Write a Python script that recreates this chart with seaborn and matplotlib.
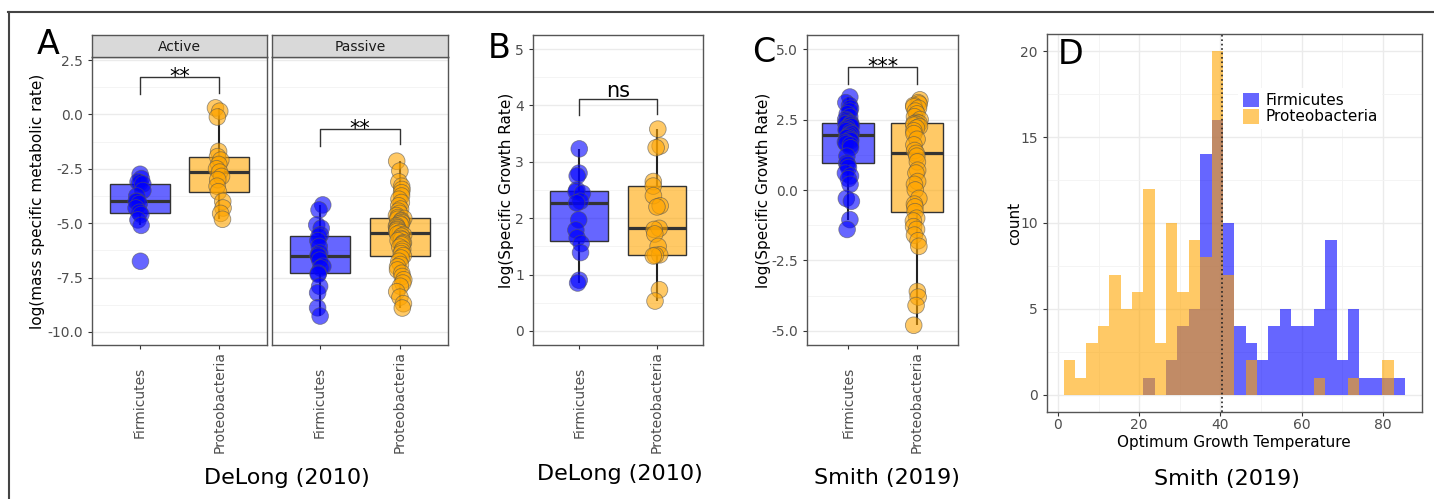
import numpy as np
import pandas as pd
import matplotlib
matplotlib.use("Agg")
import matplotlib.pyplot as plt
import seaborn as sns
from matplotlib.lines import Line2D
from matplotlib.patches import Patch
from matplotlib.ticker import MultipleLocator

# ---------------------------------------------------
# DATA
# ---------------------------------------------------

groups = ["Firmicutes", "Proteobacteria"]

# Panel A - DeLong (2010), log(mass specific metabolic rate)
active_firm = [-2.75, -2.95, -3.1, -3.15, -3.2, -3.5, -3.75, -4.0,
               -4.0, -4.1, -4.3, -4.5, -4.6, -4.85, -5.1, -6.75]
active_prot = [0.3, 0.15, -0.12, -1.7, -1.94, -2.1, -2.3, -2.5, -2.65,
               -2.85, -3.0, -3.3, -3.55, -4.0, -4.3, -4.55, -4.82]
passive_firm = [-4.16, -4.39, -5.08, -5.23, -5.53, -5.6, -5.8, -6.07,
                -6.37, -6.46, -6.52, -6.7, -6.98, -7.06, -7.3, -7.35,
                -7.9, -8.2, -8.89, -9.27]
passive_prot = [-2.15, -2.6, -3.1, -3.3, -3.45, -3.6, -3.75, -3.9, -4.05,
                -4.2, -4.35, -4.45, -4.55, -4.65, -4.74, -4.78, -4.82,
                -4.88, -4.92, -4.98, -5.02, -5.08, -5.12, -5.18, -5.22,
                -5.28, -5.32, -5.38, -5.43, -5.5, -5.55, -5.6, -5.7,
                -5.75, -5.8, -5.9, -5.95, -6.0, -6.1, -6.2, -6.3, -6.4,
                -6.49, -6.6, -6.75, -6.9, -7.0, -7.15, -7.3, -7.45, -7.6,
                -7.75, -7.9, -8.15, -8.4, -8.7, -8.9]

# Panel B - DeLong (2010), log(Specific Growth Rate)
delong_firm = [3.23, 2.8, 2.75, 2.5, 2.47, 2.44, 2.3, 2.27, 1.97, 1.79,
               1.65, 1.55, 1.39, 0.9, 0.85]
delong_prot = [3.58, 3.28, 3.25, 2.65, 2.57, 2.4, 2.22, 2.2, 1.82, 1.8,
               1.72, 1.5, 1.35, 1.34, 1.33, 0.73, 0.53]

# Panel C - Smith (2019), log(Specific Growth Rate)
smith_firm = [3.3, 3.1, 3.0, 2.9, 2.8, 2.7, 2.6, 2.5, 2.45, 2.4, 2.37,
              2.35, 2.33, 2.3, 2.25, 2.2, 2.15, 2.1, 2.05, 2.0, 1.95,
              1.9, 1.85, 1.8, 1.75, 1.7, 1.65, 1.6, 1.5, 1.2, 0.95, 0.9,
              0.8, 0.6, 0.5, 0.4, 0.2, -0.3, -0.4, -1.05, -1.4]
smith_prot = [3.2, 3.1, 3.05, 3.0, 2.95, 2.9, 2.8, 2.7, 2.6, 2.5, 2.4,
              2.37, 2.35, 2.33, 2.3, 2.25, 2.2, 2.1, 2.0, 1.8, 1.6, 1.4,
              1.3, 1.2, 1.0, 0.7, 0.6, 0.3, 0.2, 0.0, -0.3, -0.5, -0.6,
              -0.77, -1.0, -1.1, -1.3, -1.4, -1.6, -1.8, -2.0, -3.6,
              -3.8, -4.1, -4.8]

# Panel D - Smith (2019), optimum growth temperature histogram (30 bins)
bin_start = 1.4
bin_width = 2.8
firm_counts = [0, 0, 0, 0, 0, 0, 0, 1, 0, 2, 4, 5, 14, 16, 10,
               4, 3, 2, 4, 5, 4, 4, 5, 9, 2, 5, 1, 1, 1, 1]
prot_counts = [2, 1, 3, 4, 7, 5, 6, 12, 3, 10, 6, 9, 8, 20, 7,
               0, 2, 0, 0, 0, 0, 0, 1, 0, 0, 1, 0, 0, 2, 0]
temp_cutoff = 40.4

# significance brackets: (label, bar level, left leg end, right leg end)
sig_active = ("**", 1.7, 0.95, 1.0)
sig_passive = ("**", -0.69, -1.45, -1.37)
sig_delong = ("ns", 4.11, 3.83, 3.84)
sig_smith = ("***", 4.35, 3.75, 3.75)

# ---------------------------------------------------
# STYLE
# ---------------------------------------------------

plt.rcParams["font.family"] = ["DejaVu Sans"]
plt.rcParams["axes.unicode_minus"] = False

palette = {"Firmicutes": "blue", "Proteobacteria": "orange"}
W, H = 1434, 499


def px_rect(x0, y0, x1, y1):
    return [x0 / W, 1 - y1 / H, (x1 - x0) / W, (y1 - y0) / H]


def long_df(firm, prot):
    return pd.DataFrame({
        "phylum": [groups[0]] * len(firm) + [groups[1]] * len(prot),
        "value": firm + prot
    })


def style_axes(ax):
    ax.set_facecolor("white")
    for s in ax.spines.values():
        s.set_color("#555555")
        s.set_linewidth(1.0)
    ax.set_axisbelow(True)
    ax.grid(which="major", color="#EBEBEB", linewidth=1.0)
    ax.grid(which="minor", color="#F3F3F3", linewidth=0.6)
    ax.tick_params(which="major", length=3, width=0.8, color="#333333",
                   labelcolor="#4D4D4D", labelsize=10)
    ax.tick_params(which="minor", length=0)


def draw_box(ax, df):
    sns.boxplot(
        data=df, x="phylum", y="value", hue="phylum",
        order=groups, hue_order=groups, palette=palette, saturation=1,
        width=0.75, showfliers=False, linecolor="#333333", linewidth=1.0,
        medianprops=dict(linewidth=2.3, color="#333333"),
        whiskerprops=dict(linewidth=1.5, color="#222222"),
        capprops=dict(linewidth=0),
        legend=False, ax=ax
    )
    for p in ax.patches:
        fc = p.get_facecolor()
        p.set_facecolor((fc[0], fc[1], fc[2], 0.6))
    sns.stripplot(
        data=df, x="phylum", y="value", hue="phylum",
        order=groups, hue_order=groups, palette=palette,
        size=12, jitter=0.05, alpha=0.6, edgecolor="#555555",
        linewidth=0.6, legend=False, zorder=3, ax=ax
    )
    ax.set_xlim(-0.6, 1.6)
    ax.set_xlabel("")
    ax.set_ylabel("")
    ax.set_xticks([0, 1])
    ax.set_xticklabels(groups, rotation=90, va="center", ha="center")
    ax.tick_params(axis="x", pad=38)
    ax.xaxis.set_minor_locator(plt.NullLocator())


def bracket(ax, sig):
    label, top, left_end, right_end = sig
    ax.plot([0, 0, 1, 1], [left_end, top, top, right_end],
            color="#333333", linewidth=1.0, zorder=4)
    is_star = label.startswith("*")
    ax.annotate(label, xy=(0.5, top), xytext=(0, -4 if is_star else 1.5),
                textcoords="offset points", ha="center", va="baseline",
                fontsize=15, color="black")


np.random.seed(3)

fig = plt.figure(figsize=(W / 100, H / 100), dpi=100)
fig.patch.set_facecolor("white")

# ---------------------------------------------------
# PANEL A
# ---------------------------------------------------

ax_act = fig.add_axes(px_rect(92, 57, 267, 345))
ax_pas = fig.add_axes(px_rect(272, 57, 448, 345), sharey=ax_act)

for ax, firm, prot, sig, name, x0, x1 in [
        (ax_act, active_firm, active_prot, sig_active, "Active", 92, 267),
        (ax_pas, passive_firm, passive_prot, sig_passive, "Passive", 272, 448)]:
    style_axes(ax)
    draw_box(ax, long_df(firm, prot))
    bracket(ax, sig)
    strip = fig.add_axes(px_rect(x0, 35, x1, 57))
    strip.set_facecolor("#D9D9D9")
    strip.set_xticks([])
    strip.set_yticks([])
    for s in strip.spines.values():
        s.set_color("#555555")
        s.set_linewidth(1.0)
    strip.text(0.5, 0.45, name, ha="center", va="center",
               fontsize=10, color="#1A1A1A")

ax_act.set_ylim(-10.6, 2.64)
ax_act.set_yticks([-10, -7.5, -5, -2.5, 0, 2.5])
ax_act.set_yticklabels(["-10.0", "-7.5", "-5.0", "-2.5", "0.0", "2.5"])
ax_act.yaxis.set_minor_locator(MultipleLocator(1.25))
ax_pas.tick_params(axis="y", left=False, labelleft=False)

fig.text(38 / W, 1 - 201 / H, "log(mass specific metabolic rate)",
         rotation=90, ha="center", va="center", fontsize=11)
fig.text(48 / W, 1 - 45 / H, "A", ha="center", va="center", fontsize=24)
fig.text(287 / W, 1 - 478 / H, "DeLong (2010)", ha="center", va="center",
         fontsize=16)

# ---------------------------------------------------
# PANEL B
# ---------------------------------------------------

ax_b = fig.add_axes(px_rect(533, 35, 703, 345))
style_axes(ax_b)
draw_box(ax_b, long_df(delong_firm, delong_prot))
bracket(ax_b, sig_delong)
ax_b.set_ylim(-0.25, 5.25)
ax_b.set_yticks([0, 1, 2, 3, 4, 5])
ax_b.set_yticklabels(["0", "1", "2", "3", "4", "5"])
ax_b.yaxis.set_minor_locator(MultipleLocator(0.5))

fig.text(507 / W, 1 - 190 / H, "log(Specific Growth Rate)",
         rotation=90, ha="center", va="center", fontsize=11)
fig.text(499 / W, 1 - 49 / H, "B", ha="center", va="center", fontsize=24)
fig.text(620 / W, 1 - 474 / H, "DeLong (2010)", ha="center", va="center",
         fontsize=16)

# ---------------------------------------------------
# PANEL C
# ---------------------------------------------------

ax_c = fig.add_axes(px_rect(807, 35, 958, 345))
style_axes(ax_c)
draw_box(ax_c, long_df(smith_firm, smith_prot))
bracket(ax_c, sig_smith)
ax_c.set_ylim(-5.5, 5.5)
ax_c.set_yticks([-5, -2.5, 0, 2.5, 5])
ax_c.set_yticklabels(["-5.0", "-2.5", "0.0", "2.5", "5.0"])
ax_c.yaxis.set_minor_locator(MultipleLocator(1.25))

fig.text(764 / W, 1 - 190 / H, "log(Specific Growth Rate)",
         rotation=90, ha="center", va="center", fontsize=11)
fig.text(764 / W, 1 - 52 / H, "C", ha="center", va="center", fontsize=24)
fig.text(887 / W, 1 - 478 / H, "Smith (2019)", ha="center", va="center",
         fontsize=16)

# ---------------------------------------------------
# PANEL D
# ---------------------------------------------------

ax_d = fig.add_axes(px_rect(1047, 34, 1422, 412))
style_axes(ax_d)

bin_edges = bin_start + bin_width * np.arange(len(firm_counts) + 1)
bin_centers = bin_edges[:-1] + bin_width / 2

hist_df = pd.DataFrame({
    "temp": list(bin_centers) * 2,
    "count": firm_counts + prot_counts,
    "phylum": [groups[0]] * len(firm_counts) + [groups[1]] * len(prot_counts)
})

sns.histplot(data=hist_df[hist_df["phylum"] == groups[0]], x="temp",
             weights="count", bins=bin_edges.tolist(),
             color="blue", alpha=0.6, linewidth=0, ax=ax_d)
sns.histplot(data=hist_df[hist_df["phylum"] == groups[1]], x="temp",
             weights="count", bins=bin_edges.tolist(),
             color="orange", alpha=0.6, linewidth=0, ax=ax_d)

ax_d.axvline(temp_cutoff, color="#222222", linestyle=":", linewidth=1.2)

ax_d.set_xlim(-2.7, 89.6)
ax_d.set_ylim(-1, 21)
ax_d.set_xticks([0, 20, 40, 60, 80])
ax_d.set_yticks([0, 5, 10, 15, 20])
ax_d.xaxis.set_minor_locator(MultipleLocator(10))
ax_d.yaxis.set_minor_locator(MultipleLocator(2.5))
ax_d.tick_params(axis="x", pad=1.5)
ax_d.set_xlabel("")
ax_d.set_ylabel("")

handles = [Patch(facecolor="blue", alpha=0.6, edgecolor="none"),
           Patch(facecolor="orange", alpha=0.6, edgecolor="none")]
leg = ax_d.legend(handles, groups, loc="upper left",
                  bbox_to_anchor=(1238 / W, 1 - 88 / H),
                  bbox_transform=fig.transFigure,
                  frameon=True, facecolor="white", edgecolor="none",
                  framealpha=1, fancybox=False, fontsize=11,
                  handlelength=1.1, handleheight=1.1, handletextpad=0.4,
                  labelspacing=0.05, borderpad=0.3, borderaxespad=0)

fig.text(1071 / W, 1 - 55 / H, "D", ha="center", va="center", fontsize=24)
fig.text(1015 / W, 1 - 223 / H, "count", rotation=90, ha="center",
         va="center", fontsize=11)
fig.text(1234 / W, 1 - 442 / H, "Optimum Growth Temperature", ha="center",
         va="center", fontsize=11)
fig.text(1227 / W, 1 - 479 / H, "Smith (2019)", ha="center", va="center",
         fontsize=16)

# ---------------------------------------------------
# OUTER FRAME (top and left edges)
# ---------------------------------------------------

fig.add_artist(Line2D([8 / W, 1], [1 - 12 / H, 1 - 12 / H],
                      transform=fig.transFigure, color="#444444",
                      linewidth=1.5))
fig.add_artist(Line2D([9 / W, 9 / W], [0, 1 - 12 / H],
                      transform=fig.transFigure, color="#444444",
                      linewidth=1.5))

fig.savefig("out.png", dpi=100, facecolor="white")
